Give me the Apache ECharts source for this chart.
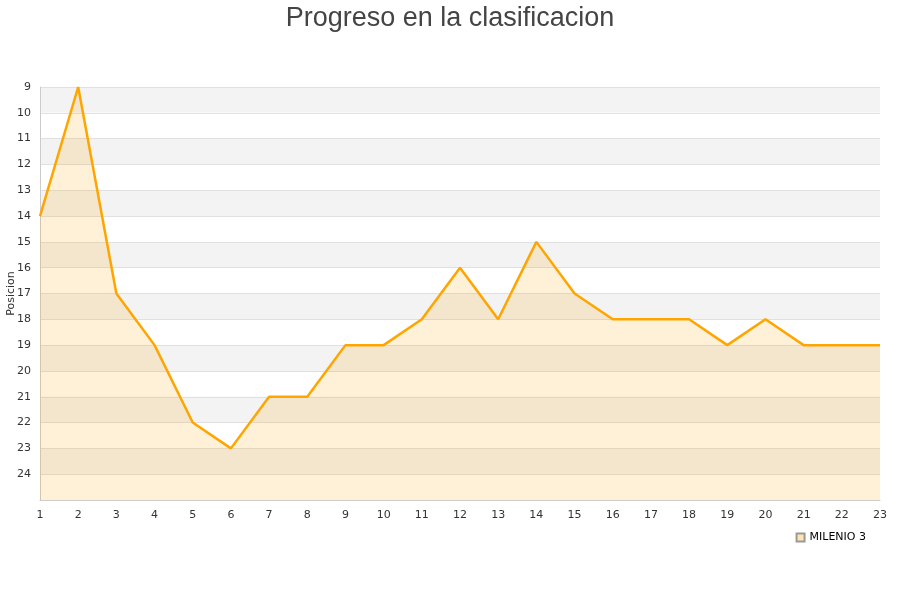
<!DOCTYPE html>
<html><head><meta charset="utf-8">
<script src="https://cdn.jsdelivr.net/npm/echarts@6/dist/echarts.min.js"></script>
<style>html,body{margin:0;padding:0;background:#fff}#c{width:900px;height:600px}</style>
</head><body><div id="c"></div>
<script>
var jornadas = ['1','2','3','4','5','6','7','8','9','10','11','12','13','14','15','16','17','18','19','20','21','22','23'];
var posiciones = [14,9,17,19,22,23,21,21,19,19,18,16,18,15,17,18,18,18,19,18,19,19,19];
var seriesName = 'MILENIO 3';
var titleText = 'Progreso en la clasificacion';
var yName = 'Posicion';

var chart = echarts.init(document.getElementById('c'));
chart.setOption({
  animation: false,
  title: { text: titleText, left: 'center', top: 0,
    textStyle: { fontFamily: 'Liberation Sans', fontSize: 27, fontWeight: 'normal', color: '#444' } },
  legend: { data: [{ name: seriesName, icon: 'rect' }], right: 29, top: 527, itemWidth: 8, itemHeight: 8,
    textStyle: { fontFamily: 'DejaVu Sans', fontSize: 11, color: '#000' } },
  grid: { left: 40, right: 20, top: 87, bottom: 100, containLabel: false, outerBoundsMode: 'none' },
  xAxis: { type: 'category', data: jornadas, boundaryGap: false,
    axisLine: { show: true, lineStyle: { color: '#ccc' } }, axisTick: { show: false },
    axisLabel: { fontFamily: 'DejaVu Sans', fontSize: 11, color: '#333', margin: 10 },
    splitLine: { show: false } },
  yAxis: { type: 'value', inverse: true, min: 9, max: 25, interval: 1,
    name: yName, nameLocation: 'middle', nameGap: 23, nameMoveOverlap: false,
    nameTextStyle: { fontFamily: 'DejaVu Sans', fontSize: 11, color: '#333' },
    axisLine: { show: true, lineStyle: { color: '#ccc' } }, axisTick: { show: false },
    axisLabel: { fontFamily: 'DejaVu Sans', fontSize: 11, color: '#333', margin: 9, showMaxLabel: false },
    splitLine: { show: true, lineStyle: { color: '#e0e0e0' } },
    splitArea: { show: true, areaStyle: { color: ['#f3f3f3', '#ffffff'] } } },
  series: [{ name: seriesName, type: 'line', data: posiciones, symbol: 'none',
    lineStyle: { color: '#ffa500', width: 2.5 }, itemStyle: { color: '#ffe4b3', borderColor: '#999', borderWidth: 1 },
    areaStyle: { color: 'rgba(255,165,0,0.22)', origin: 'end' } }]
});
</script></body></html>
